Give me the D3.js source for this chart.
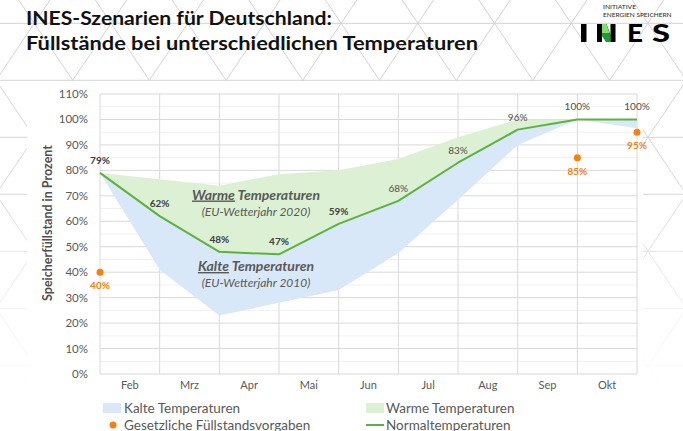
<!DOCTYPE html>
<html>
<head>
<meta charset="utf-8">
<script src="https://cdn.jsdelivr.net/npm/d3@7/dist/d3.min.js"></script>
<style>
  html, body { margin: 0; padding: 0; background: #fff; }
  svg { display: block; }
  text { font-family: Lato, "Open Sans", sans-serif; }
</style>
</head>
<body>
<div id="chart"></div>
<script>
// ---------- data ----------
const monthLabels = ["Feb", "Mrz", "Apr", "Mai", "Jun", "Jul", "Aug", "Sep", "Okt"];
const pointIndex  = [0, 1, 2, 3, 4, 5, 6, 7, 8, 9];
const normalTemp  = [79, 62, 48, 47, 59, 68, 83, 96, 100, 100];
const warmTemp    = [79, 76.5, 74, 78.5, 80, 84.5, 93, 100, 100, 100];
const coldTemp    = [79, 41, 23, 28, 33, 47.5, 68.5, 90, 100, 96.5];
const targetIndex = [0, 8, 9];
const targetValue = [40, 85, 95];
const yTickValues = [0, 10, 20, 30, 40, 50, 60, 70, 80, 90, 100, 110];
const yMinorValues = [5, 15, 25, 35, 45, 55, 65, 75, 85, 95, 105];
const titleLines  = ["INES-Szenarien für Deutschland:", "Füllstände bei unterschiedlichen Temperaturen"];
const legendItems = ["Kalte Temperaturen", "Warme Temperaturen", "Gesetzliche Füllstandsvorgaben", "Normaltemperaturen"];
const yAxisTitle  = "Speicherfüllstand in Prozent";

// ---------- setup ----------
const W = 683, H = 431;
const svg = d3.select("#chart").append("svg").attr("width", W).attr("height", H);
const defs = svg.append("defs");

const grad = defs.append("linearGradient").attr("id", "fade")
  .attr("gradientUnits", "userSpaceOnUse").attr("x1", 0).attr("y1", 0).attr("x2", 0).attr("y2", H);
grad.append("stop").attr("offset", 0).attr("stop-color", "#d2d2d2");
grad.append("stop").attr("offset", 0.45).attr("stop-color", "#d8d8d8");
grad.append("stop").attr("offset", 0.72).attr("stop-color", "#f0f0f0");
grad.append("stop").attr("offset", 0.9).attr("stop-color", "#ffffff");

// ---------- background lattice ----------
const period = 76.7, rowH = 57, baseY = 80.3, baseX = 72.7, slope = (period / 2) / rowH;
const bg = svg.append("g").attr("stroke", "url(#fade)").attr("stroke-width", 1).attr("fill", "none");
d3.range(-2, 9).forEach(j => {
  const yy = baseY + (j - 1) * rowH;
  bg.append("line").attr("x1", 0).attr("x2", W).attr("y1", yy).attr("y2", yy);
});
d3.range(-6, 16).forEach(k => {
  const x0 = baseX + k * period;
  const yA = -40, yB = H + 10;
  bg.append("line").attr("x1", x0 + (yA - baseY) * slope).attr("y1", yA)
    .attr("x2", x0 + (yB - baseY) * slope).attr("y2", yB);
  bg.append("line").attr("x1", x0 - (yA - baseY) * slope).attr("y1", yA)
    .attr("x2", x0 - (yB - baseY) * slope).attr("y2", yB);
});
svg.append("rect").attr("x", 27).attr("y", 81).attr("width", 643 - 27).attr("height", H - 81).attr("fill", "#fff");

// ---------- title ----------
svg.append("text").attr("x", 26).attr("y", 24.5).text(titleLines[0])
  .attr("font-family", "'Open Sans', sans-serif").attr("font-weight", 700).attr("font-size", 19.5)
  .attr("fill", "#111").attr("textLength", 306).attr("lengthAdjust", "spacingAndGlyphs");
svg.append("text").attr("x", 26).attr("y", 50).text(titleLines[1])
  .attr("font-family", "'Open Sans', sans-serif").attr("font-weight", 700).attr("font-size", 19.5)
  .attr("fill", "#111").attr("textLength", 452).attr("lengthAdjust", "spacingAndGlyphs");

// ---------- logo ----------
const logo = svg.append("g");
logo.append("text").attr("x", 603).attr("y", 8.5).text("INITIATIVE")
  .attr("font-family", "Roboto, sans-serif").attr("font-weight", 500).attr("font-size", 5.5).attr("fill", "#333")
  .attr("textLength", 33).attr("lengthAdjust", "spacingAndGlyphs");
logo.append("text").attr("x", 603).attr("y", 16.8).text("ENERGIEN SPEICHERN")
  .attr("font-family", "Roboto, sans-serif").attr("font-weight", 500).attr("font-size", 5.5).attr("fill", "#333")
  .attr("textLength", 68.5).attr("lengthAdjust", "spacingAndGlyphs");
logo.append("rect").attr("x", 581).attr("y", 24).attr("width", 5.5).attr("height", 18).attr("fill", "#000");
logo.append("rect").attr("x", 597).attr("y", 24).attr("width", 5).attr("height", 18).attr("fill", "#000");
logo.append("rect").attr("x", 610.5).attr("y", 24).attr("width", 5).attr("height", 18).attr("fill", "#000");
logo.append("polygon").attr("points", "602,24 606.5,24 610.5,35 610.5,42 606,42 602,31").attr("fill", "#111");
logo.append("polygon").attr("points", "602,24 606.5,24 609.5,33 602,33").attr("fill", "#7fe06a");
logo.append("polygon").attr("points", "602,33 609.5,33 610.5,37 610.5,42 606,42 602,36").attr("fill", "#1f9a35");
logo.append("text").attr("x", 627).attr("y", 42).text("E")
  .attr("font-family", "Roboto, sans-serif").attr("font-weight", 900).attr("font-size", 25).attr("fill", "#000")
  .attr("textLength", 16).attr("lengthAdjust", "spacingAndGlyphs");
logo.append("text").attr("x", 652).attr("y", 42).text("S")
  .attr("font-family", "Roboto, sans-serif").attr("font-weight", 900).attr("font-size", 25).attr("fill", "#000")
  .attr("textLength", 18).attr("lengthAdjust", "spacingAndGlyphs");

// ---------- scales ----------
const x = d3.scaleLinear().domain([0, 9]).range([100, 637]);
const y = d3.scaleLinear().domain([0, 110]).range([374, 94]);

// ---------- grid ----------
const grid = svg.append("g");
grid.selectAll(".minor").data(yMinorValues).join("line")
  .attr("x1", x(0)).attr("x2", x(9)).attr("y1", d => y(d)).attr("y2", d => y(d))
  .attr("stroke", "#f0f0f0").attr("stroke-width", 1);
grid.selectAll(".major").data(yTickValues).join("line")
  .attr("x1", x(0)).attr("x2", x(9)).attr("y1", d => y(d)).attr("y2", d => y(d))
  .attr("stroke", "#d9d9d9").attr("stroke-width", 1);
grid.selectAll(".vert").data(pointIndex).join("line")
  .attr("x1", d => x(d)).attr("x2", d => x(d)).attr("y1", y(0)).attr("y2", y(110))
  .attr("stroke", "#d9d9d9").attr("stroke-width", 1);

// ---------- areas ----------
const areaWarm = d3.area().x(d => x(d)).y0(d => y(normalTemp[d])).y1(d => y(warmTemp[d]));
const areaCold = d3.area().x(d => x(d)).y0(d => y(coldTemp[d])).y1(d => y(normalTemp[d]));
svg.append("path").datum(pointIndex).attr("d", areaWarm).attr("fill", "#dcf0d4");
svg.append("path").datum(pointIndex).attr("d", areaCold).attr("fill", "#d9e8f8");

// ---------- line ----------
const line = d3.line().x(d => x(d)).y(d => y(normalTemp[d]));
svg.append("path").datum(pointIndex).attr("d", line).attr("fill", "none")
  .attr("stroke", "#5cb23e").attr("stroke-width", 2).attr("stroke-linejoin", "round");

// ---------- data labels ----------
svg.append("g").selectAll("text").data(pointIndex).join("text")
  .attr("x", d => x(d)).attr("y", d => y(normalTemp[d]) - 9)
  .attr("text-anchor", "middle").attr("font-size", 10)
  .attr("font-weight", d => d < 5 ? 700 : 400)
  .attr("fill", d => d < 5 ? "#404040" : "#505050")
  .text(d => normalTemp[d] + "%");

// ---------- targets ----------
const tg = svg.append("g");
tg.selectAll("circle").data(targetIndex).join("circle")
  .attr("cx", d => x(d)).attr("cy", (d, i) => y(targetValue[i])).attr("r", 3.5).attr("fill", "#f5820f");
tg.selectAll("text").data(targetIndex).join("text")
  .attr("x", d => x(d)).attr("y", (d, i) => y(targetValue[i]) + 17)
  .attr("text-anchor", "middle").attr("font-size", 10).attr("font-weight", 700).attr("fill", "#f5820f")
  .text((d, i) => targetValue[i] + "%");

// ---------- axes ----------
svg.append("g").selectAll("text").data(yTickValues).join("text")
  .attr("x", 88).attr("y", d => y(d) + 4).attr("text-anchor", "end")
  .attr("font-size", 11.5).attr("fill", "#595959").text(d => d + "%");
svg.append("g").selectAll("text").data(monthLabels).join("text")
  .attr("x", (d, i) => x(i + 0.5)).attr("y", 389).attr("text-anchor", "middle")
  .attr("font-size", 11).attr("fill", "#595959").text(d => d);
svg.append("text").attr("transform", "translate(52,223) rotate(-90)")
  .attr("text-anchor", "middle").attr("font-size", 12.5).attr("font-weight", 700).attr("fill", "#505050")
  .text(yAxisTitle);

// ---------- annotations ----------
function annot(cx, yb, word, rest, sub) {
  const t = svg.append("text").attr("x", cx).attr("y", yb).attr("text-anchor", "middle")
    .attr("font-size", 14).attr("font-weight", 700).attr("font-style", "italic").attr("fill", "#595959");
  t.append("tspan").attr("text-decoration", "underline").text(word);
  t.append("tspan").text(" " + rest);
  svg.append("text").attr("x", cx).attr("y", yb + 16).attr("text-anchor", "middle")
    .attr("font-size", 12).attr("font-style", "italic").attr("fill", "#595959").text(sub);
}
annot(256, 199.5, "Warme", "Temperaturen", "(EU-Wetterjahr 2020)");
annot(256, 271, "Kalte", "Temperaturen", "(EU-Wetterjahr 2010)");

// ---------- legend ----------
const lg = svg.append("g").attr("font-size", 13.5).attr("fill", "#595959");
lg.append("rect").attr("x", 103).attr("y", 403).attr("width", 18).attr("height", 10).attr("fill", "#d9e8f8");
lg.append("text").attr("x", 124).attr("y", 413).text(legendItems[0]);
lg.append("rect").attr("x", 366).attr("y", 403).attr("width", 18).attr("height", 10).attr("fill", "#dcf0d4");
lg.append("text").attr("x", 386).attr("y", 413).text(legendItems[1]);
lg.append("circle").attr("cx", 113).attr("cy", 425).attr("r", 3.5).attr("fill", "#f5820f");
lg.append("text").attr("x", 124).attr("y", 430).text(legendItems[2]);
lg.append("line").attr("x1", 366).attr("x2", 384).attr("y1", 425).attr("y2", 425)
  .attr("stroke", "#5cb23e").attr("stroke-width", 2);
lg.append("text").attr("x", 386).attr("y", 430).text(legendItems[3]);
</script>
</body>
</html>
